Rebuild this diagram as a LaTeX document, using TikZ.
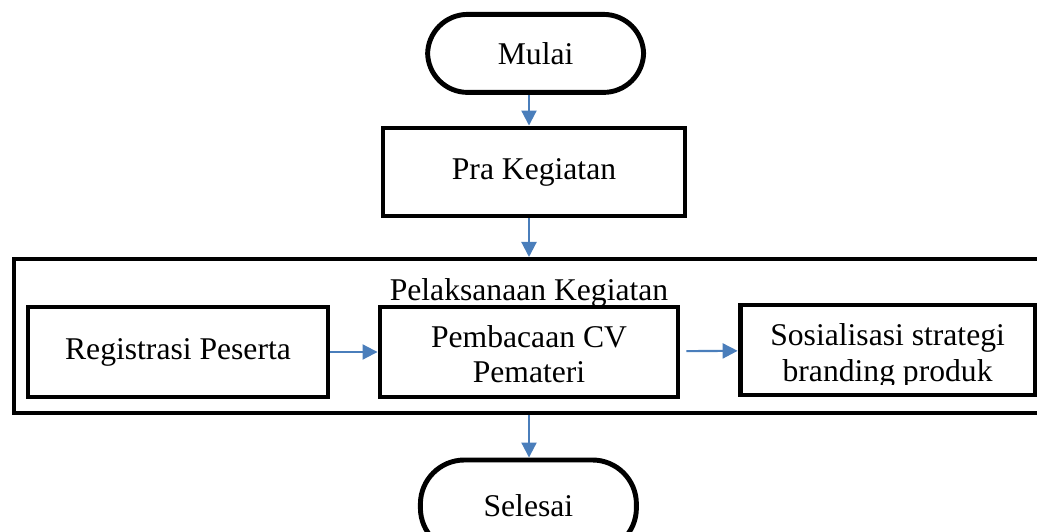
\documentclass[tikz,border=0pt]{standalone}
\usepackage{fontspec}
\setmainfont{Liberation Serif}
\usetikzlibrary{arrows.meta}
\definecolor{panah}{RGB}{74,126,187}
\begin{document}
\begin{tikzpicture}[font=\fontsize{22.5}{25}\selectfont,>={Stealth[inset=0pt,length=0.375cm,width=0.375cm]},
  kotak/.style={draw,line width=3.5pt,minimum width=7.5cm,minimum height=2.25cm},
  ujung/.style={draw,line width=3.5pt,rounded corners=1cm,minimum width=5.4cm,minimum height=1.95cm},
  alur/.style={->,panah,line width=1.5pt}]
\path[use as bounding box] (0,0) rectangle (25.925,13.275);
\clip (0,0) rectangle (25.925,13.275);
\node[ujung] (mulai) at (13.39,11.94) {Mulai};
\node[kotak,minimum width=7.55cm,minimum height=2.2cm] (pra) at (13.35,8.975) {Pra Kegiatan};
\node[draw,line width=3pt,minimum width=26.4cm,minimum height=3.85cm,anchor=north west] (wadah) at (0.3,6.85) {};
\node (judul) at (13.225,5.96) {Pelaksanaan Kegiatan};
\node[kotak] (reg) at (4.45,4.475) {Registrasi Peserta};
\node[kotak,minimum width=7.45cm] (baca) at (13.225,4.475) {};
\node[kotak,minimum width=7.375cm] (sosial) at (22.19,4.525) {};
\begin{scope}
\clip ([yshift=0.4cm]baca.south west) rectangle (baca.north east);
\node[align=center] (tbaca) at ([yshift=-0.06cm]baca.center) {Pembacaan CV\\Pemateri};
\end{scope}
\begin{scope}
\clip ([yshift=0.33cm]sosial.south west) rectangle (sosial.north east);
\node[align=center] (tsosial) at ([yshift=-0.15cm]sosial.center) {Sosialisasi strategi\\branding produk};
\end{scope}
\node[ujung,minimum height=2.3cm,rounded corners=1.1cm] (selesai) at (13.21,0.625) {Selesai};
\draw[alur] (mulai.south -| baca) -- (pra.north -| baca);
\draw[alur] (pra.south -| baca) -- (wadah.north -| baca);
\draw[alur] (reg) -- (baca);
\draw[alur,shorten <=0.15cm] (baca) -- (sosial);
\draw[alur] (wadah.south -| baca) -- (selesai.north -| baca);
\end{tikzpicture}
\end{document}
